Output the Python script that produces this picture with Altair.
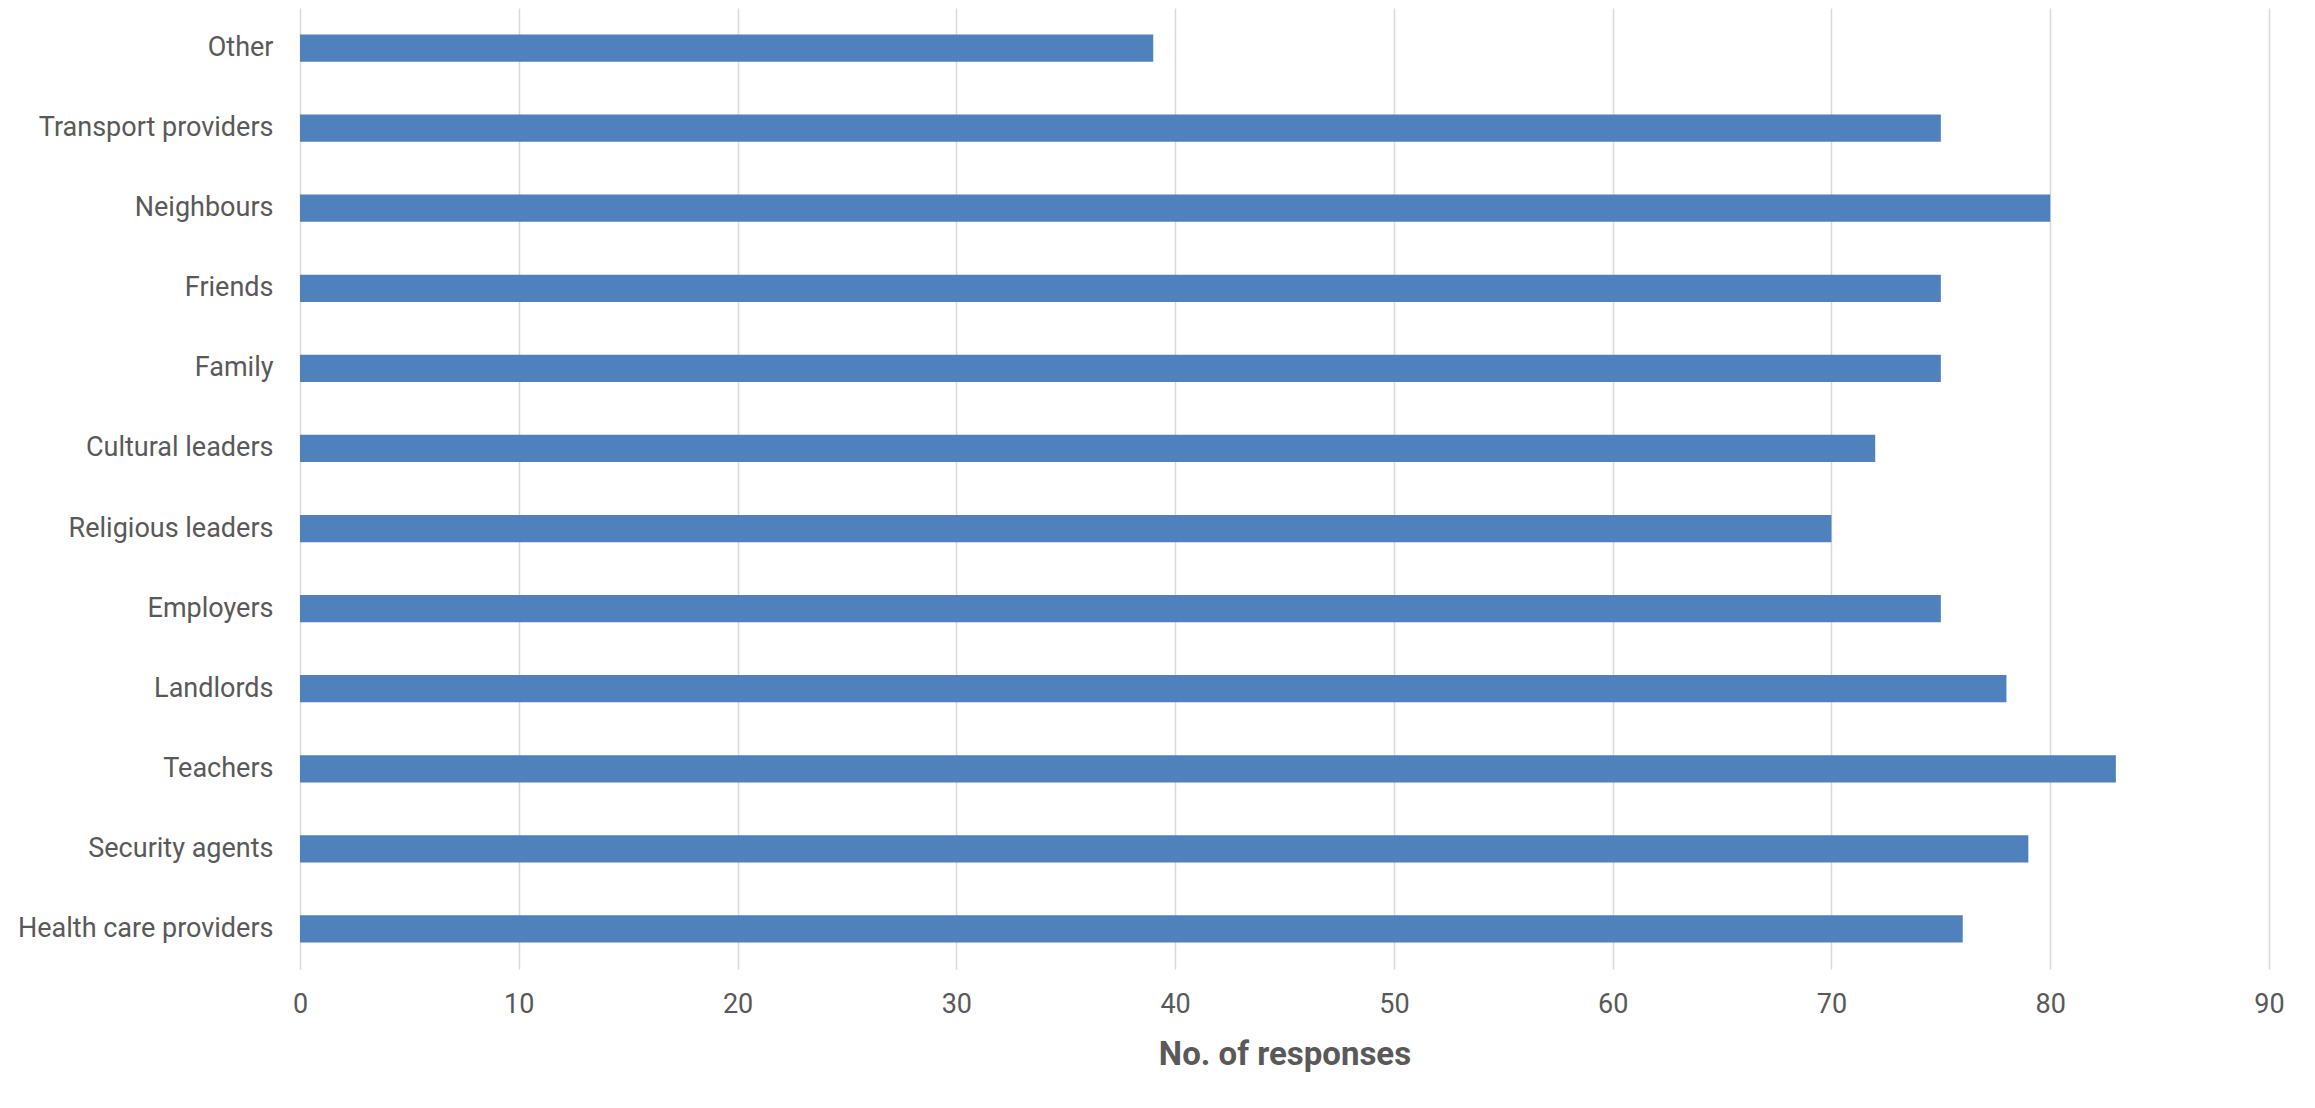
import altair as alt
import pandas as pd

categories = ["Other", "Transport providers", "Neighbours", "Friends", "Family",
              "Cultural leaders", "Religious leaders", "Employers", "Landlords",
              "Teachers", "Security agents", "Health care providers"]
responses = [39, 75, 80, 75, 75, 72, 70, 75, 78, 83, 79, 76]
x_ticks = [0, 10, 20, 30, 40, 50, 60, 70, 80, 90]

df = pd.DataFrame({"category": categories, "responses": responses})

FONT = "Roboto"
GREY = "#595959"

chart = alt.Chart(df).mark_bar(color="#4F81BD").encode(
    x=alt.X("responses:Q",
            scale=alt.Scale(domain=[0, 90], nice=False),
            axis=alt.Axis(values=x_ticks, title="No. of responses", grid=True,
                          gridColor="#D9D9D9", gridWidth=1.5, domain=False, ticks=False,
                          labelFlush=False,
                          labelFont=FONT, labelFontSize=27, labelColor=GREY,
                          labelPadding=22, titleFont=FONT, titleFontSize=33,
                          titleFontWeight="bold", titleColor=GREY, titlePadding=21)),
    y=alt.Y("category:N", sort=categories,
            scale=alt.Scale(paddingInner=0.66, paddingOuter=0.33),
            axis=alt.Axis(title=None, domain=False, ticks=False, grid=False,
                          labelFont=FONT, labelFontSize=27, labelColor=GREY,
                          labelLimit=400, labelPadding=27)),
).properties(
    width=1969, height=961,
    background="white",
    autosize=alt.AutoSizeParams(type="none"),
    padding={"left": 292, "top": 0, "right": 30, "bottom": 120},
).configure_view(stroke=None)

chart.save("out.html", embed_options={"renderer": "svg", "actions": False})
